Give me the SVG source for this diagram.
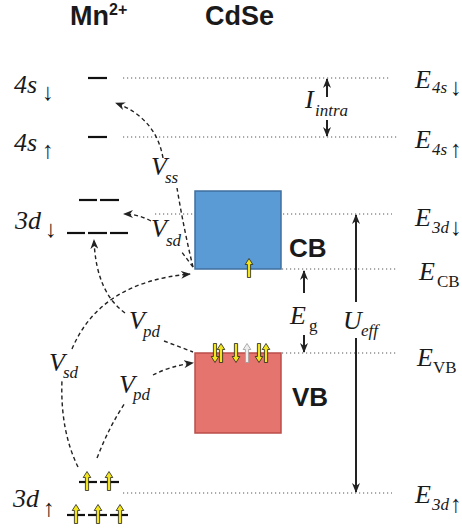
<svg xmlns="http://www.w3.org/2000/svg" width="462" height="529" viewBox="0 0 462 529">
<style>
.title{font-family:"Liberation Sans",Arial,sans-serif;font-weight:bold;font-size:27px;fill:#1a1a1a}
.band{font-family:"Liberation Sans",Arial,sans-serif;font-weight:bold;font-size:26px;fill:#1a1a1a}
.it{font-family:"Liberation Serif","Times New Roman",serif;font-style:italic;font-size:26px;fill:#1a1a1a}
.sub{font-family:"Liberation Serif","Times New Roman",serif;font-style:italic;font-size:17px;fill:#1a1a1a}
.subr{font-family:"Liberation Serif","Times New Roman",serif;font-size:17px;fill:#1a1a1a}
.ar{font-family:"Liberation Sans","DejaVu Sans",sans-serif;font-size:24px;fill:#1a1a1a}
.dot{stroke:#555;stroke-width:1;stroke-dasharray:1.2 2.8;fill:none}
.lvl{stroke:#111;stroke-width:2.2;fill:none}
.conn{stroke:#222;stroke-width:1.4;stroke-dasharray:4 3;fill:none}
.solid{stroke:#222;stroke-width:2;fill:none}
.up{fill:#f2e51e;stroke:#222;stroke-width:0.8}
.grey{fill:#eeeeee;stroke:#9a9a9a;stroke-width:0.8}
</style>
<defs>
<marker id="ah" markerUnits="userSpaceOnUse" markerWidth="10" markerHeight="8" refX="9" refY="4" orient="auto">
<path d="M0,0 L10,4 L0,8 L3,4 Z" fill="#222"/>
</marker>
<marker id="sh" markerUnits="userSpaceOnUse" markerWidth="10" markerHeight="8" refX="9" refY="4" orient="auto">
<path d="M0,0 L10,4 L0,8 L3,4 Z" fill="#222"/>
</marker>
<path id="spin" d="M0,-9.5 L3.8,-3.5 L1.6,-3.5 L1.6,9.5 L-1.6,9.5 L-1.6,-3.5 L-3.8,-3.5 Z"/>
</defs>

<g id="titles">
<text class="title" x="70" y="25">Mn<tspan font-size="16" dy="-10">2+</tspan></text>
<text class="title" x="205" y="25">CdSe</text>
</g>

<g id="guides">
<line class="dot" x1="123" y1="78" x2="389" y2="78"/>
<line class="dot" x1="123" y1="137" x2="397" y2="137"/>
<line class="dot" x1="155" y1="214" x2="392" y2="214"/>
<line class="dot" x1="282" y1="269" x2="398" y2="269"/>
<line class="dot" x1="282" y1="353" x2="397" y2="353"/>
<line class="dot" x1="123" y1="493" x2="392" y2="493"/>
</g>

<g id="mn-4s-down">
<line class="lvl" x1="88" y1="78" x2="107" y2="78"/>
<text class="it" x="14" y="93">4s</text>
<text class="ar" x="42" y="100">↓</text>
</g>
<g id="mn-4s-up">
<line class="lvl" x1="88" y1="137" x2="107" y2="137"/>
<text class="it" x="14" y="151">4s</text>
<text class="ar" x="42" y="158">↑</text>
</g>
<g id="mn-3d-down">
<line class="lvl" x1="79" y1="200" x2="97" y2="200"/>
<line class="lvl" x1="100" y1="200" x2="119" y2="200"/>
<line class="lvl" x1="67" y1="233" x2="85" y2="233"/>
<line class="lvl" x1="88" y1="233" x2="107" y2="233"/>
<line class="lvl" x1="110" y1="233" x2="128" y2="233"/>
<text class="it" x="15" y="229">3d</text>
<text class="ar" x="45" y="237">↓</text>
</g>
<g id="mn-3d-up">
<line class="lvl" x1="79" y1="482" x2="97" y2="482"/>
<line class="lvl" x1="100" y1="482" x2="119" y2="482"/>
<line class="lvl" x1="67" y1="515" x2="85" y2="515"/>
<line class="lvl" x1="88" y1="515" x2="107" y2="515"/>
<line class="lvl" x1="110" y1="515" x2="128" y2="515"/>
<use href="#spin" class="up" x="87" y="481"/>
<use href="#spin" class="up" x="109" y="481"/>
<use href="#spin" class="up" x="76" y="514"/>
<use href="#spin" class="up" x="98" y="514"/>
<use href="#spin" class="up" x="120" y="514"/>
<text class="it" x="13" y="507">3d</text>
<text class="ar" x="43" y="516">↑</text>
</g>

<g id="cb">
<rect x="195" y="191" width="86" height="78" fill="#5b9bd5" stroke="#3f6f9e" stroke-width="1.5"/>
<use href="#spin" class="up" x="249" y="268"/>
<text class="band" x="289" y="257">CB</text>
</g>
<g id="vb">
<rect x="195" y="353" width="86" height="80" fill="#e5736e" stroke="#bb4d49" stroke-width="1.5"/>
<use href="#spin" class="up" transform="translate(215,353) rotate(180)"/>
<use href="#spin" class="up" x="221" y="353"/>
<use href="#spin" class="up" transform="translate(236,353) rotate(180)"/>
<use href="#spin" class="grey" x="247" y="353"/>
<use href="#spin" class="up" transform="translate(259,353) rotate(180)"/>
<use href="#spin" class="up" x="266" y="353"/>
<text class="band" x="292" y="406">VB</text>
</g>

<g id="energy-labels">
<text class="it" x="415" y="88">E</text><text class="sub" x="432" y="93">4s</text><text class="ar" x="450" y="95">↓</text>
<text class="it" x="415" y="148">E</text><text class="sub" x="432" y="155">4s</text><text class="ar" x="450" y="157">↑</text>
<text class="it" x="415" y="226">E</text><text class="sub" x="432" y="233">3d</text><text class="ar" x="450" y="235">↓</text>
<text class="it" x="419" y="280">E</text><text class="subr" x="437" y="287">CB</text>
<text class="it" x="417" y="366">E</text><text class="subr" x="433" y="373">VB</text>
<text class="it" x="415" y="503">E</text><text class="sub" x="432" y="510">3d</text><text class="ar" x="450" y="512">↑</text>
</g>

<g id="gaps">
<line class="solid" x1="327" y1="97" x2="327" y2="79" marker-end="url(#sh)"/>
<line class="solid" x1="327" y1="120" x2="327" y2="136" marker-end="url(#sh)"/>
<text class="it" x="305" y="108">I</text><text class="sub" x="315" y="116">intra</text>
<line class="solid" x1="304" y1="293" x2="304" y2="271" marker-end="url(#sh)"/>
<line class="solid" x1="304" y1="335" x2="304" y2="352" marker-end="url(#sh)"/>
<text class="it" x="290" y="324">E</text><text class="subr" x="309" y="331">g</text>
<line class="solid" x1="356" y1="302" x2="356" y2="215" marker-end="url(#sh)"/>
<line class="solid" x1="356" y1="338" x2="356" y2="492" marker-end="url(#sh)"/>
<text class="it" x="343" y="329">U</text><text class="sub" x="361" y="336">eff</text>
</g>

<g id="connectors">
<path class="conn" d="M193,267 Q184,230 177,188"/>
<path class="conn" d="M163,158 Q156,118 116,103" marker-end="url(#ah)"/>
<text class="it" x="151" y="175">V</text><text class="sub" x="165" y="183">ss</text>

<path class="conn" d="M193,267 L181,251"/>
<path class="conn" d="M151,221 Q138,214 124,214" marker-end="url(#ah)"/>
<text class="it" x="151" y="237">V</text><text class="sub" x="166" y="246">sd</text>

<path class="conn" d="M78,467 Q60,430 62,380"/>
<path class="conn" d="M72,349 Q100,282 190,274" marker-end="url(#ah)"/>
<text class="it" x="49" y="371">V</text><text class="sub" x="63" y="378">sd</text>

<path class="conn" d="M125,313 Q96,292 94,240" marker-end="url(#ah)"/>
<path class="conn" d="M164,341 L193,352"/>
<text class="it" x="129" y="329">V</text><text class="sub" x="143" y="337">pd</text>

<path class="conn" d="M97,458 Q110,425 125,403"/>
<path class="conn" d="M153,375 Q170,366 193,363" marker-end="url(#ah)"/>
<text class="it" x="119" y="393">V</text><text class="sub" x="133" y="400">pd</text>
</g>
</svg>
